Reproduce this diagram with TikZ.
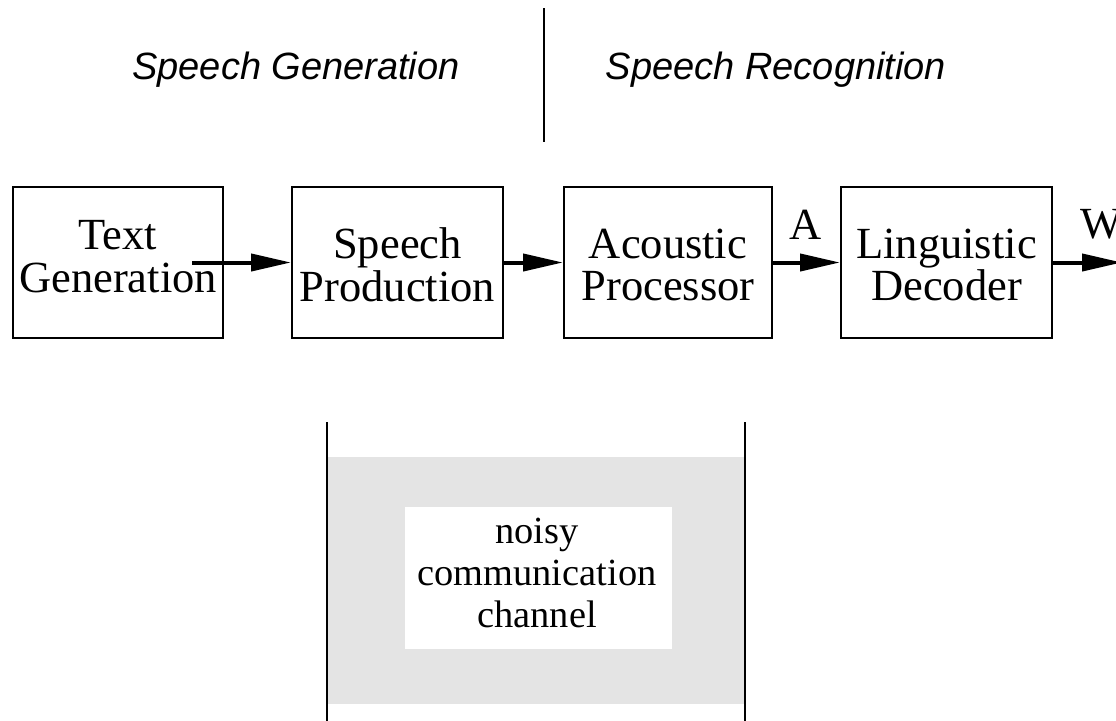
\documentclass[tikz,border=0pt]{standalone}
\usepackage{fontspec}
\setmainfont{Liberation Serif}
\newfontfamily\hvfont{Liberation Sans}
\usetikzlibrary{arrows.meta}
\definecolor{chgray}{RGB}{228,228,228}
\begin{document}
\begin{tikzpicture}[x=1pt,y=-1pt,
  blk/.style={draw=black, line width=2pt, minimum height=151pt, inner sep=0pt},
  blktext/.style={font=\fontsize{44.5}{42.5}\selectfont, align=center, inner sep=0pt},
  chtext/.style={font=\fontsize{38.4}{41.8}\selectfont, align=center, inner sep=0pt},
  sidetext/.style={font=\hvfont\itshape\fontsize{38}{40}\selectfont, anchor=base, inner sep=0pt},
  flow/.style={line width=4pt, -{Triangle[length=40pt,width=17pt]}},
  divider/.style={line width=1.5pt},
  chline/.style={line width=2pt}]
\useasboundingbox (0,0) rectangle (1116,720);
\clip (0,0) rectangle (1116,720);

% top section
\draw[divider] (544,8) -- (544,142);
\node[sidetext] (gen) at (296,79) {Speech Generation};
\node[sidetext] (rec) at (776,79) {Speech Recognition};

% boxes
\node[blk, minimum width=210pt] (b1) at (118,262.5) {};
\node[blk, minimum width=211pt] (b2) at (397.5,262.5) {};
\node[blk, minimum width=208pt] (b3) at (668,262.5) {};
\node[blk, minimum width=211pt] (b4) at (946.5,262.5) {};

\node[blktext] (t1) at (118,256.5) {Text\\Generation};
\node[blktext] (t2) at (397.5,265) {Speech\\Production};
\node[blktext] (t3) at (668,265) {Acoustic\\Processor};
\node[blktext] (t4) at (946.5,265) {Linguistic\\Decoder};

% arrows
\coordinate (s1) at (192,262.5);
\coordinate (e4) at (1122,262.5);
\draw[flow] (s1) -- (b2.west);
\draw[flow] (b2.east) -- (b3.west);
\draw[flow] (b3.east) -- (b4.west);
\draw[flow] (b4.east) -- (e4);
\node[blktext, anchor=base] (lA) at (806,239) {A};
\node[blktext, anchor=base west] (lW) at (1080,238) {W};

% channel
\fill[chgray] (328,457) rectangle (744,704);
\node[fill=white, minimum width=267pt, minimum height=142pt, inner sep=0pt] (win) at (538.5,578) {};
\node[chtext] (ch) at (537,573) {noisy\\communication\\channel};
\draw[chline] (327,422) -- (327,725);
\draw[chline] (745,422) -- (745,725);
\end{tikzpicture}
\end{document}
